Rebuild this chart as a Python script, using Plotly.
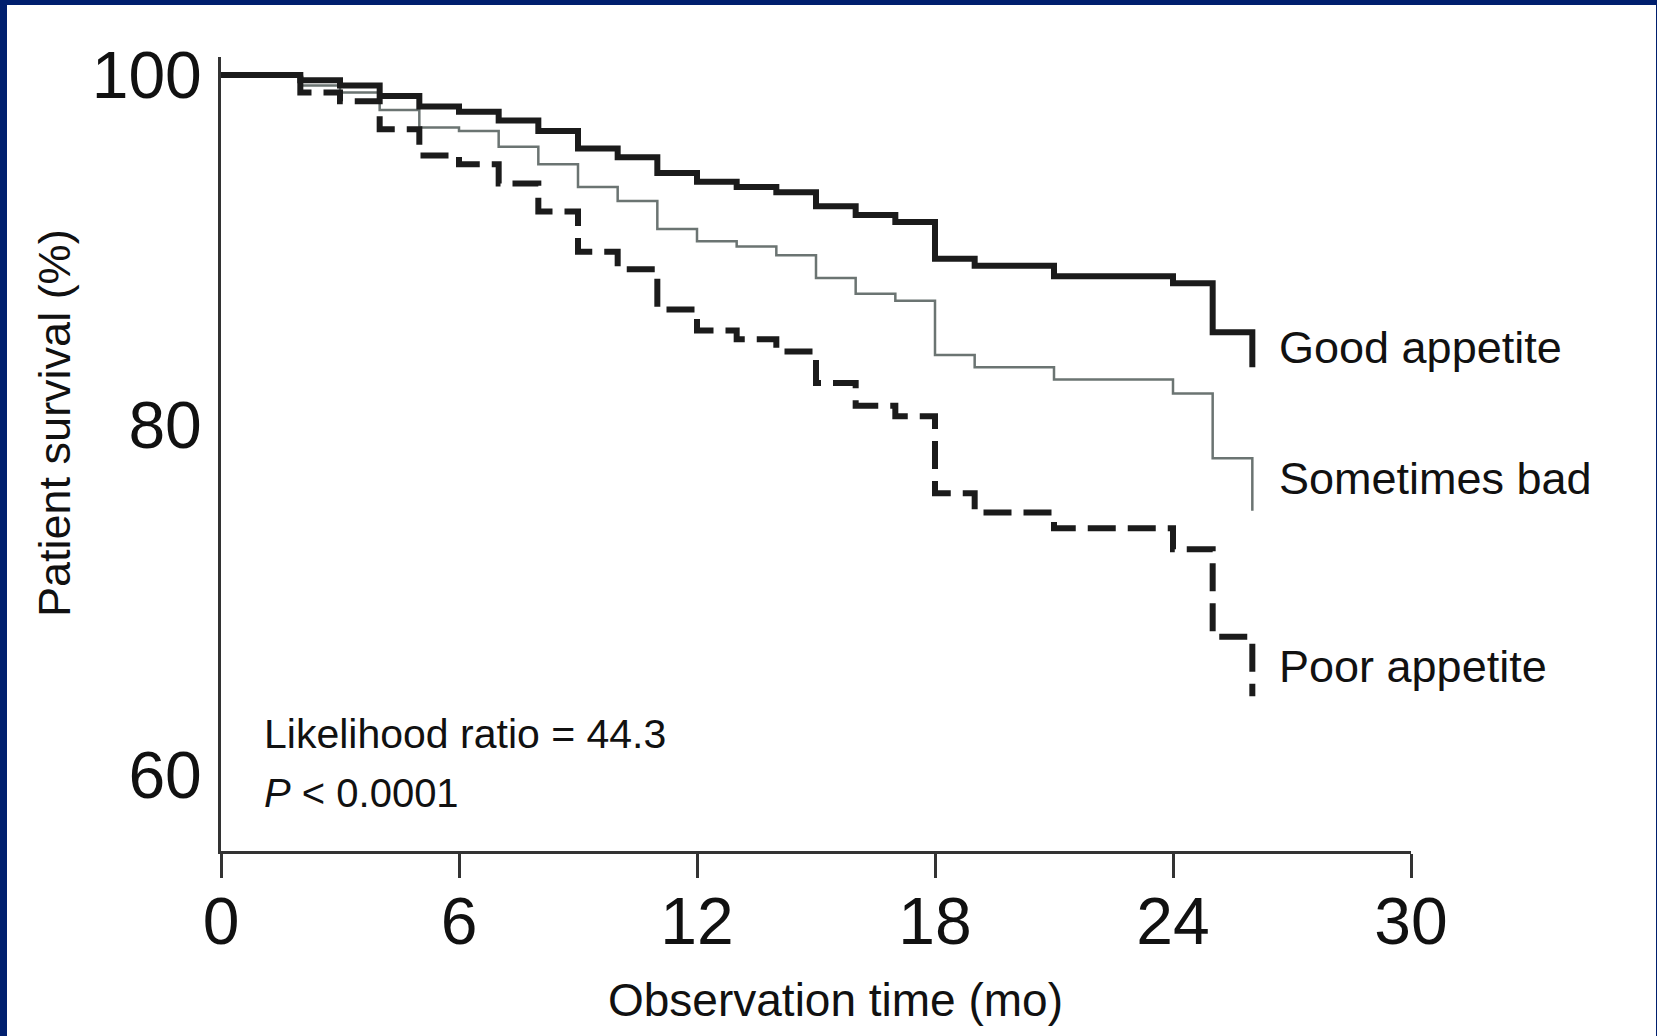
import plotly.graph_objects as go

# ---- data (months, survival %) ----
months = [0, 2, 3, 4, 5, 6, 7, 8, 9, 10, 11, 12, 13, 14, 15, 16, 17, 18, 19, 21, 24, 25, 26]
good_appetite = [100, 99.7, 99.4, 98.8, 98.2, 97.9, 97.4, 96.8, 95.8, 95.3, 94.4, 93.9, 93.6,
                 93.3, 92.5, 92.0, 91.6, 89.5, 89.1, 88.5, 88.1, 85.3, 83.3]
sometimes_bad = [100, 99.4, 99.0, 98.0, 97.0, 96.8, 95.9, 94.9, 93.6, 92.8, 91.2, 90.5, 90.2,
                 89.7, 88.4, 87.5, 87.1, 84.0, 83.3, 82.6, 81.8, 78.1, 75.1]
poor_appetite = [100, 99.0, 98.5, 96.9, 95.4, 94.9, 93.8, 92.2, 89.9, 88.9, 86.6, 85.4, 84.9,
                 84.2, 82.4, 81.1, 80.5, 76.1, 75.0, 74.1, 72.9, 67.9, 64.5]

series_names = ["Sometimes bad", "Poor appetite", "Good appetite"]
x_ticks = [0, 6, 12, 18, 24, 30]
y_ticks = [60, 80, 100]

FONT = "Liberation Sans, Arial, Helvetica, sans-serif"
INK = "#1b1b1b"

fig = go.Figure()
fig.add_trace(go.Scatter(x=months, y=sometimes_bad, mode="lines", name=series_names[0],
                         line=dict(shape="hv", color="#6b7472", width=2.5)))
fig.add_trace(go.Scatter(x=months, y=poor_appetite, mode="lines", name=series_names[1],
                         line=dict(shape="hv", color=INK, width=6, dash="28px,12px")))
fig.add_trace(go.Scatter(x=months, y=good_appetite, mode="lines", name=series_names[2],
                         line=dict(shape="hv", color=INK, width=6)))

# plot-area geometry in pixels
W, H = 1657, 1036
L, R, T, B = 221, 1411, 57, 851
def px(xp):
    return (xp - L) / (R - L)
def py(yp):
    return (B - yp) / (B - T)

shapes = [
    # white slide panel inside the navy frame
    dict(type="rect", xref="paper", yref="paper", layer="below",
         x0=px(7), x1=px(1656), y0=py(1036), y1=py(5),
         fillcolor="white", line=dict(width=0)),
]

annotations = [
    dict(text=series_names[2], x=px(1277), y=py(347), xanchor="left", yanchor="middle"),
    dict(text=series_names[0], x=px(1277), y=py(478), xanchor="left", yanchor="middle"),
    dict(text=series_names[1], x=px(1277), y=py(666), xanchor="left", yanchor="middle"),
]
for a in annotations:
    a.update(xref="paper", yref="paper", showarrow=False, font=dict(size=45, color="#111", family=FONT))

annotations += [
    dict(text="Likelihood ratio = 44.3", x=px(262), y=py(734), xanchor="left", yanchor="middle",
         xref="paper", yref="paper", showarrow=False, font=dict(size=41, color="#111", family=FONT)),
    dict(text="<i>P</i> < 0.0001", x=px(262), y=py(793), xanchor="left", yanchor="middle",
         xref="paper", yref="paper", showarrow=False, font=dict(size=40, color="#111", family=FONT)),
    dict(text="Observation time (mo)", x=px(835), y=py(1000), xanchor="center", yanchor="middle",
         xref="paper", yref="paper", showarrow=False, font=dict(size=46, color="#111", family=FONT)),
    dict(text="Patient survival (%)", x=px(54), y=py(423), xanchor="center", yanchor="middle",
         textangle=-90, xref="paper", yref="paper", showarrow=False,
         font=dict(size=45, color="#111", family=FONT)),
]

y_bottom = 100 - (B - 75) / 17.5
y_top = 100 + (75 - T) / 17.5

fig.update_layout(
    width=W, height=H,
    margin=dict(l=L, r=W - R, t=T, b=H - B, pad=0),
    paper_bgcolor="#001f6e",
    plot_bgcolor="white",
    showlegend=False,
    shapes=shapes,
    annotations=annotations,
    font=dict(family=FONT, color="#111"),
    xaxis=dict(range=[0, 30], tickvals=x_ticks, ticks="outside", ticklen=24, tickwidth=3,
               tickcolor="#333", showline=True, linewidth=3, linecolor="#333",
               ticklabelstandoff=-13,
               showgrid=False, zeroline=False, tickfont=dict(size=66, family=FONT, color="#111")),
    yaxis=dict(range=[y_bottom, y_top], tickvals=y_ticks, ticks="outside", ticklen=3,
               tickcolor="rgba(0,0,0,0)", showline=True, linewidth=3, linecolor="#333",
               showgrid=False, zeroline=False, tickfont=dict(size=66, family=FONT, color="#111")),
)

fig.write_html("out.html", config={"displayModeBar": False})
